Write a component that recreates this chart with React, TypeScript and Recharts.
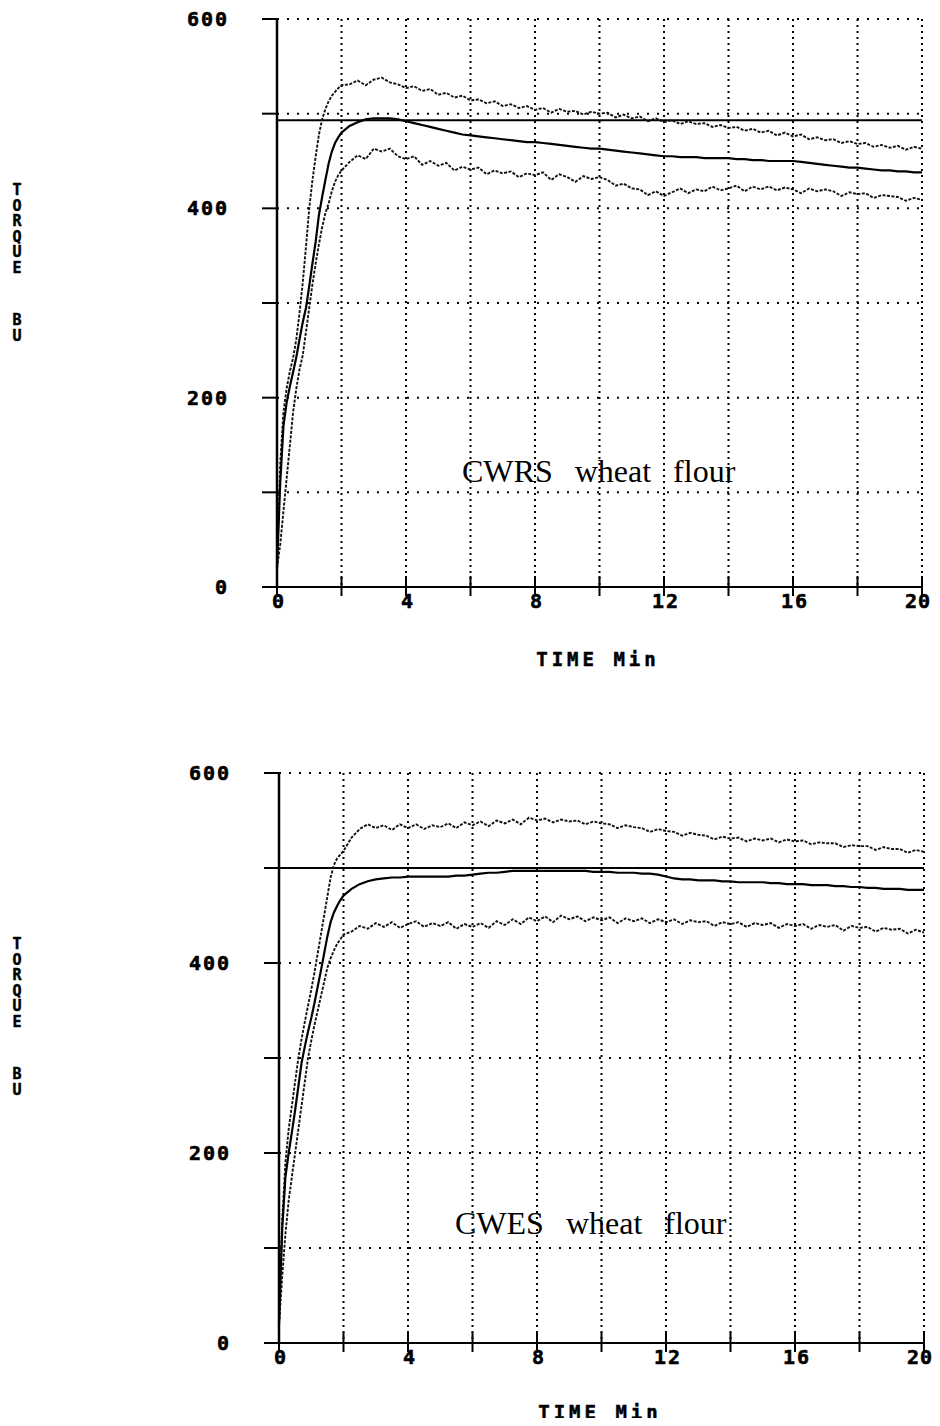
import React from "react";
import {
  LineChart,
  Line,
  XAxis,
  YAxis,
  CartesianGrid,
  ReferenceLine,
} from "recharts";

// minutes
const TIME = [
  0, 0.1, 0.2, 0.3, 0.4, 0.5, 0.6, 0.7, 0.8, 0.9, 1.0, 1.1, 1.2, 1.3, 1.4, 1.5,
  1.6, 1.7, 1.8, 1.9, 2.0,
  2.25, 2.5, 2.75, 3, 3.25, 3.5, 3.75, 4, 4.25, 4.5, 4.75, 5, 5.25, 5.5, 5.75, 6,
  6.25, 6.5, 6.75, 7, 7.25, 7.5, 7.75, 8, 8.25, 8.5, 8.75, 9, 9.25, 9.5, 9.75, 10,
  10.25, 10.5, 10.75, 11, 11.25, 11.5, 11.75, 12, 12.25, 12.5, 12.75, 13, 13.25,
  13.5, 13.75, 14, 14.25, 14.5, 14.75, 15, 15.25, 15.5, 15.75, 16, 16.25, 16.5,
  16.75, 17, 17.25, 17.5, 17.75, 18, 18.25, 18.5, 18.75, 19, 19.25, 19.5, 19.75, 20,
];

// CWRS wheat flour (BU)
const CWRS_UPPER = [
  20, 130, 185, 210, 228, 242, 262, 290, 322, 360, 400, 430, 455, 478, 494, 505,
  513, 519, 523, 527, 530,
  531, 535, 530, 536, 538, 533, 531, 527, 529, 524, 526, 520, 522, 517, 519, 514,
  515, 511, 513, 508, 510, 506, 508, 504, 506, 501, 505, 502, 503, 499, 502, 500,
  501, 496, 499, 495, 497, 492, 495, 491, 493, 489, 492, 489, 490, 486, 488, 485,
  486, 482, 484, 480, 482, 477, 480, 476, 478, 473, 475, 472, 473, 469, 471, 468,
  469, 465, 467, 464, 466, 462, 465, 463,
];
const CWRS_MIDDLE = [
  20, 110, 170, 195, 212, 227, 243, 262, 280, 295, 318, 342, 365, 393, 412, 430,
  447, 460, 469, 475, 480,
  487, 491, 494, 495, 495, 495, 494, 492, 490, 488, 486, 484, 482, 480, 478, 477,
  476, 475, 474, 473, 472, 471, 470, 470, 469, 468, 467, 466, 465, 464, 463, 463,
  462, 461, 460, 459, 458, 457, 456, 455, 455, 454, 454, 454, 453, 453, 453, 453,
  452, 452, 451, 451, 450, 450, 450, 450, 449, 448, 447, 446, 445, 444, 443, 443,
  442, 441, 440, 440, 439, 439, 438, 438,
];
const CWRS_LOWER = [
  20, 45, 80, 115, 150, 185, 210, 230, 245, 270, 295, 320, 342, 362, 380, 395,
  405, 418, 428, 435, 440,
  449, 456, 452, 463, 460, 463, 455, 452, 455, 446, 450, 445, 448, 440, 444, 441,
  443, 436, 440, 437, 439, 433, 437, 435, 438, 430, 436, 433, 428, 434, 431, 433,
  430, 424, 426, 421, 420, 414, 418, 413, 417, 421, 416, 420, 418, 423, 419, 421,
  424, 418, 423, 420, 423, 419, 422, 420, 416, 421, 418, 420, 418, 413, 417, 415,
  416, 411, 414, 413, 412, 408, 411, 409,
];

// CWES wheat flour (BU)
const CWES_UPPER = [
  20, 130, 190, 225, 250, 275, 300, 320, 338, 355, 372, 390, 410, 430, 450, 470,
  490, 503, 510, 514, 518,
  532, 541, 546, 542, 545, 540, 546, 542, 546, 541, 545, 543, 547, 542, 548, 545,
  549, 544, 550, 547, 551, 546, 553, 550, 552, 548, 551, 549, 550, 546, 549, 547,
  546, 542, 545, 543, 542, 538, 541, 539, 538, 534, 537, 535, 534, 530, 533, 531,
  532, 528, 531, 529, 531, 527, 530, 528, 529, 525, 527, 526, 526, 522, 524, 523,
  523, 519, 522, 520, 520, 516, 519, 517,
];
const CWES_MIDDLE = [
  20, 120, 175, 200, 222, 245, 270, 295, 312, 328, 342, 358, 375, 392, 410, 428,
  443, 453, 460, 466, 471,
  478, 483, 486, 488, 489, 490, 490, 491, 491, 491, 491, 491, 491, 492, 492, 493,
  494, 495, 495, 496, 497, 497, 497, 497, 497, 497, 497, 497, 497, 497, 496, 496,
  496, 495, 495, 495, 494, 494, 493, 491, 489, 488, 488, 487, 487, 487, 486, 486,
  485, 485, 485, 485, 484, 484, 483, 483, 483, 482, 482, 482, 481, 481, 480, 480,
  479, 479, 478, 478, 478, 477, 477, 477,
];
const CWES_LOWER = [
  20, 70, 115, 150, 175, 200, 225, 250, 275, 300, 318, 335, 350, 365, 380, 395,
  405, 413, 420, 425, 430,
  433, 439, 436, 442, 438, 443, 437, 441, 444, 438, 442, 439, 443, 436, 441, 438,
  442, 437, 444, 440, 446, 441, 448, 444, 449, 443, 450, 446, 449, 444, 448, 445,
  448, 442, 447, 444, 447, 442, 446, 443, 446, 441, 445, 443, 444, 439, 443, 441,
  443, 438, 442, 440, 442, 437, 441, 439, 441, 436, 440, 438, 440, 434, 439, 437,
  438, 433, 437, 435, 436, 431, 435, 432,
];

const X_TICKS = [0, 2, 4, 6, 8, 10, 12, 14, 16, 18, 20];
const X_LABELS = [0, 4, 8, 12, 16, 20];
const Y_TICKS = [0, 100, 200, 300, 400, 500, 600];
const Y_LABELS = [0, 200, 400, 600];

const MONO: React.CSSProperties = {
  fontFamily: "'DejaVu Sans Mono', monospace",
  fontWeight: 700,
  fontSize: 20,
  letterSpacing: 2,
  fill: "#000",
  stroke: "#000",
  strokeWidth: 0.6,
};

function buildRows(upper: number[], middle: number[], lower: number[]) {
  return TIME.map((t, i) => ({ t, upper: upper[i], middle: middle[i], lower: lower[i] }));
}

const XTick = (props: any) => {
  const { x, y, payload } = props;
  const v = payload.value;
  // last label sits against the right edge, keep it inside the page
  const last = v === 20;
  return (
    <g>
      <line x1={x} x2={x} y1={y - 11} y2={y + 9} stroke="#000" strokeWidth={2} />
      {X_LABELS.includes(v) && (
        <text
          x={last ? x + 9 : x + 2}
          y={y + 21}
          textAnchor={last ? "end" : "middle"}
          style={last ? { ...MONO, letterSpacing: 1 } : MONO}
        >
          {v}
        </text>
      )}
    </g>
  );
};

const YTick = (props: any) => {
  const { x, y, payload } = props;
  const v = payload.value;
  return (
    <g>
      <line x1={x - 15} x2={x} y1={y} y2={y} stroke="#000" strokeWidth={2} />
      {Y_LABELS.includes(v) && (
        <text x={x - 48} y={y + 7} textAnchor="end" style={MONO}>
          {v}
        </text>
      )}
    </g>
  );
};

function TorqueChart({
  rows,
  refValue,
  margin,
}: {
  rows: any[];
  refValue: number;
  margin: { top: number; right: number; bottom: number; left: number };
}) {
  return (
    <LineChart width={940} height={640} data={rows} margin={margin}>
      <CartesianGrid horizontal={false} stroke="#000" strokeWidth={2} strokeDasharray="2 4" />
      <CartesianGrid vertical={false} stroke="#000" strokeWidth={2} strokeDasharray="2 8" />
      <XAxis
        dataKey="t"
        type="number"
        domain={[0, 20]}
        ticks={X_TICKS}
        interval={0}
        tick={<XTick />}
        tickLine={false}
        tickSize={0}
        tickMargin={0}
        height={30}
        axisLine={{ stroke: "#000", strokeWidth: 2 }}
      />
      <YAxis
        type="number"
        domain={[0, 600]}
        ticks={Y_TICKS}
        interval={0}
        tick={<YTick />}
        tickLine={false}
        tickSize={0}
        tickMargin={0}
        width={60}
        axisLine={{ stroke: "#000", strokeWidth: 2.5 }}
      />
      <ReferenceLine y={refValue} stroke="#000" strokeWidth={2} />
      <Line
        dataKey="upper"
        type="linear"
        stroke="#111"
        strokeWidth={1.9}
        strokeDasharray="3 1.5"
        dot={false}
        isAnimationActive={false}
      />
      <Line
        dataKey="middle"
        type="linear"
        stroke="#000"
        strokeWidth={2.2}
        dot={false}
        isAnimationActive={false}
      />
      <Line
        dataKey="lower"
        type="linear"
        stroke="#111"
        strokeWidth={1.9}
        strokeDasharray="3 1.5"
        dot={false}
        isAnimationActive={false}
      />
    </LineChart>
  );
}

const axisTitle: React.CSSProperties = {
  position: "absolute",
  fontFamily: "'DejaVu Sans Mono', monospace",
  fontWeight: 700,
  color: "#000",
  WebkitTextStroke: "0.5px #000",
};

const flourLabel: React.CSSProperties = {
  position: "absolute",
  fontFamily: "'Liberation Serif', 'Times New Roman', serif",
  fontSize: 32,
  lineHeight: "32px",
  wordSpacing: 3,
  whiteSpace: "pre",
  color: "#000",
};

const vertical: React.CSSProperties = {
  ...axisTitle,
  width: 16,
  fontSize: 15,
  lineHeight: "15.6px",
  textAlign: "center",
  whiteSpace: "pre-line",
};

function YTitle({ top }: { top: number }) {
  return (
    <>
      <div style={{ ...vertical, left: 9, top }}>{"T\nO\nR\nQ\nU\nE"}</div>
      <div style={{ ...vertical, left: 9, top: top + 130 }}>{"B\nU"}</div>
    </>
  );
}

// page x = local x (wrapper starts at page x 0), page y = local y + 8
export default function App() {
  const cwrs = buildRows(CWRS_UPPER, CWRS_MIDDLE, CWRS_LOWER);
  const cwes = buildRows(CWES_UPPER, CWES_MIDDLE, CWES_LOWER);
  return (
    <div style={{ position: "relative", width: 940, height: 1410, marginLeft: -8, background: "#fff" }}>
      <div style={{ position: "absolute", left: 0, top: 0 }}>
        <TorqueChart rows={cwrs} refValue={493} margin={{ top: 11, right: 18, bottom: 31, left: 217 }} />
      </div>
      <div style={{ position: "absolute", left: 0, top: 754 }}>
        <TorqueChart rows={cwes} refValue={500} margin={{ top: 11, right: 16, bottom: 29, left: 219 }} />
      </div>

      <YTitle top={175} />
      <YTitle top={929} />

      <div style={{ ...axisTitle, left: 498, width: 200, textAlign: "center", top: 640, fontSize: 19, letterSpacing: 4 }}>
        TIME Min
      </div>
      <div style={{ ...axisTitle, left: 500, width: 200, textAlign: "center", top: 1393, fontSize: 19, letterSpacing: 4 }}>
        TIME Min
      </div>

      <div style={{ ...flourLabel, left: 462, top: 447 }}>CWRS  wheat  flour</div>
      <div style={{ ...flourLabel, left: 455, top: 1199 }}>CWES  wheat  flour</div>
    </div>
  );
}
